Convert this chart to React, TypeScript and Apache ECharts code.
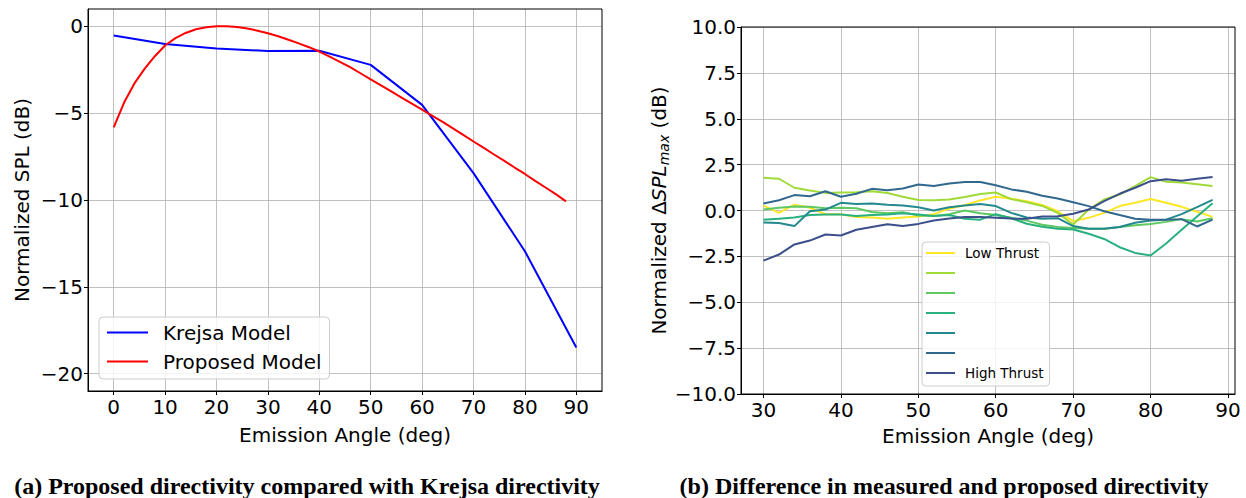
import React, { useEffect, useRef } from 'react';
import * as echarts from 'echarts';

// ---------- Panel (a) data ----------
const krejsaAngle = [0, 10, 20, 30, 40, 50, 60, 70, 80, 90];
const krejsaSPL = [-0.52, -1.02, -1.28, -1.42, -1.4, -2.22, -4.52, -8.45, -12.95, -18.5];

const proposedAngle = [
  0, 2, 4, 6, 8, 10, 12, 14, 16, 18, 20, 22, 24, 26, 28, 30, 32, 34, 36, 38, 40, 42, 44,
  46, 48, 50, 52, 54, 56, 58, 60, 62, 64, 66, 68, 70, 72, 74, 76, 78, 80, 82, 84, 86, 88,
];
const proposedSPL = [
  -5.82, -4.4, -3.3, -2.45, -1.72, -1.1, -0.68, -0.38, -0.17, -0.05, 0.0, 0.0, -0.04, -0.12,
  -0.25, -0.4, -0.57, -0.77, -0.98, -1.2, -1.45, -1.74, -2.04, -2.35, -2.7, -3.05, -3.4,
  -3.75, -4.1, -4.45, -4.8, -5.15, -5.5, -5.87, -6.25, -6.63, -7.0, -7.38, -7.75, -8.13,
  -8.5, -8.9, -9.28, -9.66, -10.08,
];

const leftXTicks = [0, 10, 20, 30, 40, 50, 60, 70, 80, 90];
const leftYTicks = [-20, -15, -10, -5, 0];

// ---------- Panel (b) data ----------
const measAngle = [
  30, 32, 34, 36, 38, 40, 42, 44, 46, 48, 50, 52, 54, 56, 58, 60, 62, 64, 66, 68, 70, 72,
  74, 76, 78, 80, 82, 84, 86, 88,
];
const thrust1 = [
  0.27, -0.13, 0.32, 0.15, -0.2, -0.2, -0.36, -0.38, -0.45, -0.38, -0.33, -0.2, 0.1, 0.3,
  0.55, 0.75, 0.64, 0.5, 0.3, -0.04, -0.58, -0.4, -0.13, 0.24, 0.42, 0.63, 0.42, 0.2, -0.07,
  -0.35,
];
const thrust2 = [
  1.78, 1.73, 1.24, 1.09, 0.96, 0.98, 1.0, 1.05, 0.95, 0.75, 0.57, 0.56, 0.6, 0.73, 0.9,
  0.98, 0.62, 0.45, 0.25, -0.13, -0.76, 0.05, 0.6, 0.87, 1.33, 1.82, 1.56, 1.53, 1.43, 1.33,
];
const thrust3 = [
  0.05, 0.15, 0.22, 0.2, 0.12, 0.15, 0.12, -0.08, -0.15, -0.1, -0.27, -0.3, -0.2, 0.0, -0.15,
  -0.25, -0.4, -0.55, -0.78, -0.9, -0.95, -1.0, -1.0, -0.9, -0.8, -0.73, -0.62, -0.47, -0.6,
  -0.42,
];
const thrust4 = [
  -0.5, -0.45, -0.38, -0.25, -0.22, -0.22, -0.3, -0.25, -0.22, -0.15, -0.22, -0.3, -0.25,
  -0.45, -0.5, -0.2, -0.42, -0.72, -0.88, -1.0, -1.04, -1.27, -1.55, -2.0, -2.31, -2.45, -1.8,
  -1.05, -0.33, 0.4,
];
const thrust5 = [
  -0.65, -0.68, -0.85, -0.04, 0.05, 0.42, 0.35, 0.38, 0.32, 0.27, 0.18, 0.0, 0.18, 0.27, 0.36,
  0.24, -0.13, -0.38, -0.45, -0.42, -0.85, -1.0, -1.0, -0.9, -0.67, -0.55, -0.5, -0.2, 0.18,
  0.58,
];
const thrust6 = [
  0.38, 0.56, 0.84, 0.78, 1.05, 0.75, 0.91, 1.18, 1.1, 1.2, 1.42, 1.33, 1.47, 1.55, 1.55,
  1.38, 1.15, 1.02, 0.8, 0.65, 0.45, 0.24, -0.04, -0.25, -0.45, -0.5, -0.5, -0.47, -0.87, -0.5,
];
const thrust7 = [
  -2.73, -2.4, -1.85, -1.64, -1.31, -1.36, -1.05, -0.9, -0.75, -0.85, -0.73, -0.55, -0.44,
  -0.35, -0.36, -0.4, -0.44, -0.45, -0.33, -0.31, -0.18, 0.05, 0.51, 0.91, 1.24, 1.6, 1.7,
  1.62, 1.73, 1.82,
];
const thrustNames = ['Low Thrust', 'T2', 'T3', 'T4', 'T5', 'T6', 'High Thrust'];
const thrustColors = ['#fde725', '#a0da39', '#5ec962', '#2ab07f', '#23898e', '#31688e', '#3b4f8a'];
const thrustSeries = [thrust1, thrust2, thrust3, thrust4, thrust5, thrust6, thrust7];

const rightXTicks = [30, 40, 50, 60, 70, 80, 90];

const captionA = '(a) Proposed directivity compared with Krejsa directivity';
const captionB = '(b) Difference in measured and proposed directivity';

const FONT = 'DejaVu Sans';
const minus = (v: number, d: number) => (v < 0 ? '\u2212' : '') + Math.abs(v).toFixed(d);
const zip = (xs: number[], ys: number[]) => xs.map((x, i) => [x, ys[i]]);

const baseAxis = (ticks: number[] | null) => ({
  axisLine: { show: true, onZero: false, lineStyle: { color: '#000', width: 1 } },
  axisTick: {
    show: true,
    inside: false,
    length: 4,
    lineStyle: { color: '#000', width: 1 },
    ...(ticks ? { customValues: ticks } : {}),
  },
  splitLine: { show: true, lineStyle: { color: '#b0b0b0', width: 0.8 } },
  nameTextStyle: { color: '#000', fontSize: 20, fontFamily: FONT },
});

export default function App() {
  const ref = useRef<HTMLDivElement>(null);
  useEffect(() => {
    const chart = echarts.init(ref.current!, null, { renderer: 'svg' });
    const option: any = {
      animation: false,
      backgroundColor: '#ffffff',
      grid: [
        { left: 88, right: 644, top: 9, bottom: 107, show: true, borderColor: '#000', borderWidth: 1, backgroundColor: 'transparent', z: 10 },
        { left: 741, right: 11, top: 27, bottom: 104, show: true, borderColor: '#000', borderWidth: 1, backgroundColor: 'transparent', z: 10 },
      ],
      xAxis: [
        {
          type: 'value', gridIndex: 0, min: -5, max: 95,
          ...baseAxis(leftXTicks),
          axisLabel: { customValues: leftXTicks, color: '#000', fontSize: 20, fontFamily: FONT, margin: 6, formatter: (v: number) => minus(v, 0) },
          name: 'Emission Angle (deg)', nameLocation: 'middle', nameGap: 34,
        },
        {
          type: 'value', gridIndex: 1, min: 27.1, max: 90.9,
          ...baseAxis(rightXTicks),
          axisLabel: { customValues: rightXTicks, color: '#000', fontSize: 20, fontFamily: FONT, margin: 6, formatter: (v: number) => minus(v, 0) },
          name: 'Emission Angle (deg)', nameLocation: 'middle', nameGap: 32,
        },
      ],
      yAxis: [
        {
          type: 'value', gridIndex: 0, min: -21, max: 1,
          ...baseAxis(leftYTicks),
          axisLabel: { customValues: leftYTicks, color: '#000', fontSize: 20, fontFamily: FONT, margin: 5, formatter: (v: number) => minus(v, 0) },
          name: 'Normalized SPL (dB)', nameLocation: 'middle', nameGap: 56,
        },
        {
          type: 'value', gridIndex: 1, min: -10, max: 10, interval: 2.5,
          ...baseAxis(null),
          axisLabel: { color: '#000', fontSize: 20, fontFamily: FONT, margin: 5, formatter: (v: number) => minus(v, 1) },
          name: 'Normalized \u0394{it|SPL}{sub|max} (dB)', nameLocation: 'middle', nameGap: 70,
          nameTextStyle: {
            color: '#000', fontSize: 20, fontFamily: FONT, lineHeight: 24,
            rich: {
              it: { fontStyle: 'italic', fontSize: 20, fontFamily: FONT, color: '#000', lineHeight: 24 },
              sub: { fontStyle: 'italic', fontSize: 14, fontFamily: FONT, color: '#000', lineHeight: 14, verticalAlign: 'bottom' },
            },
          },
        },
      ],
      legend: [
        {
          data: ['Krejsa Model', 'Proposed Model'],
          left: 99, top: 317, orient: 'vertical',
          itemWidth: 41, itemHeight: 29, itemGap: 0,
          icon: 'path://M0,-13.5L0,-13.5M0,0L41,0L41,2L0,2ZM0,15.5L0,15.5', symbolKeepAspect: true,
          padding: [1, 8, 3, 8],
          textStyle: { fontSize: 20, fontFamily: FONT, color: '#000', padding: [0, 0, 0, 10] },
          backgroundColor: 'rgba(255,255,255,0.8)', borderColor: '#cccccc', borderWidth: 1, borderRadius: 4,
          selectedMode: false,
        },
        {
          data: thrustNames,
          left: 922, top: 242, orient: 'vertical',
          itemWidth: 29, itemHeight: 20, itemGap: 0,
          icon: 'path://M0,-9L0,-9M0,0L29,0L29,2L0,2ZM0,11L0,11', symbolKeepAspect: true,
          padding: [1, 6, 3, 4],
          formatter: (n: string) => (n === 'Low Thrust' || n === 'High Thrust' ? n : ''),
          textStyle: { fontSize: 13.5, fontFamily: FONT, color: '#000', padding: [0, 0, 0, 5] },
          backgroundColor: 'rgba(255,255,255,0.8)', borderColor: '#cccccc', borderWidth: 1, borderRadius: 4,
          selectedMode: false,
        },
      ],
      series: [
        {
          type: 'line', name: 'Krejsa Model', xAxisIndex: 0, yAxisIndex: 0,
          data: zip(krejsaAngle, krejsaSPL), showSymbol: false, symbol: 'none',
          color: '#0000ff', lineStyle: { width: 2, color: '#0000ff' }, silent: true,
        },
        {
          type: 'line', name: 'Proposed Model', xAxisIndex: 0, yAxisIndex: 0,
          data: zip(proposedAngle, proposedSPL), showSymbol: false, symbol: 'none',
          color: '#ff0000', lineStyle: { width: 2, color: '#ff0000' }, silent: true,
        },
        ...thrustSeries.map((ys, i) => ({
          type: 'line', name: thrustNames[i], xAxisIndex: 1, yAxisIndex: 1,
          data: zip(measAngle, ys), showSymbol: false, symbol: 'none',
          color: thrustColors[i], lineStyle: { width: 2, color: thrustColors[i] }, silent: true,
        })),
      ],
      graphic: [
        {
          type: 'text', x: 307, y: 486,
          style: { text: captionA, textAlign: 'center', textVerticalAlign: 'middle', font: 'bold 24px "Liberation Serif"', fill: '#000' },
        },
        {
          type: 'text', x: 944, y: 486,
          style: { text: captionB, textAlign: 'center', textVerticalAlign: 'middle', font: 'bold 24px "Liberation Serif"', fill: '#000' },
        },
      ],
    };
    chart.setOption(option);
    return () => chart.dispose();
  }, []);
  return (
    <div
      ref={ref}
      style={{ position: 'fixed', left: 0, top: 0, width: 1246, height: 498, background: '#fff' }}
    />
  );
}
